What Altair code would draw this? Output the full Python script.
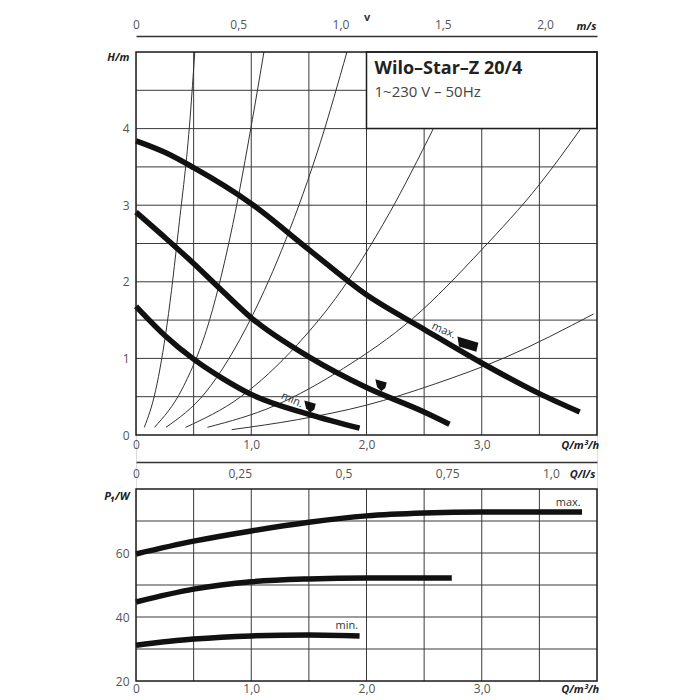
import altair as alt
import pandas as pd

FONT = "Open Sans"
GREY = "#555555"
DARK = "#1c1c1c"
GRID = "#3a3a3a"

# ---------------- upper panel: delivery head H (m) vs Q (m3/h) ----------------
q_max = [0, 0.25, 0.5, 1.0, 1.5, 2.0, 2.5, 3.0, 3.5, 3.85]
h_max = [3.84, 3.69, 3.49, 3.02, 2.42, 1.83, 1.38, 0.94, 0.54, 0.30]
q_mid = [0, 0.25, 0.5, 0.75, 1.0, 1.5, 2.0, 2.5, 2.72]
h_mid = [2.91, 2.58, 2.24, 1.88, 1.53, 1.02, 0.62, 0.30, 0.14]
q_min = [0, 0.25, 0.5, 0.75, 1.0, 1.5, 1.94]
h_min = [1.68, 1.30, 0.99, 0.74, 0.53, 0.27, 0.09]

# thin system curves
sys_q = [
    [0.072, 0.17, 0.27, 0.37, 0.47, 0.51],
    [0.16, 0.40, 0.64, 0.84, 1.01, 1.11],
    [0.26, 0.60, 1.00, 1.30, 1.60, 1.83],
    [0.43, 0.90, 1.40, 1.73, 2.20, 2.58],
    [0.62, 1.20, 1.80, 2.40, 3.00, 3.50, 3.86],
    [0.83, 1.40, 2.00, 2.60, 3.20, 3.97],
]
sys_h = [
    [0.10, 0.58, 1.45, 2.70, 4.15, 5.0],
    [0.10, 0.60, 1.51, 2.75, 4.12, 5.0],
    [0.10, 0.55, 1.53, 2.55, 3.82, 5.0],
    [0.10, 0.49, 1.18, 1.78, 2.90, 4.0],
    [0.10, 0.38, 0.87, 1.52, 2.42, 3.27, 4.0],
    [0.07, 0.20, 0.39, 0.67, 1.01, 1.58],
]

# setting flags on the curves
flag_max_q, flag_max_h = [2.88], [1.19]
flag_q, flag_h = [2.126, 1.51], [0.653, 0.375]
note_top_text = ["max.", "min."]
note_top_q = [2.67, 1.354]
note_top_h = [1.36, 0.457]

title_lines = ["Wilo\u2013Star\u2013Z 20/4", "1~230 V \u2013 50Hz"]
box_q = [2.0, 4.0]
box_h = [4.0, 5.0]

q_grid = [0.5, 1.0, 1.5, 2.0, 2.5, 3.0, 3.5]
h_grid = [0.5, 1.0, 1.5, 2.0, 2.5, 3.0, 3.5, 4.0, 4.5]

q_ticks = [0, 1.0, 2.0, 3.0, 3.85]
h_ticks = [0, 1, 2, 3, 4, 4.93]
v_ticks = [0, 0.5, 1.0, 1.5, 2.0, 2.2]       # m/s (last one carries the unit)
ls_ticks = [0, 0.25, 0.5, 0.75, 1.0, 1.075]  # l/s (last one carries the unit)
V_PER_Q = 2.254 / 4.0   # m/s per m3/h on this chart's velocity scale
LS_PER_Q = 1 / 3.6      # l/s per m3/h

# ---------------- lower panel: power P1 (W) vs Q ----------------
pq_max = [0, 0.5, 1.0, 1.5, 2.0, 2.5, 3.0, 3.5, 3.87]
p_max = [59.7, 63.7, 66.9, 69.6, 71.6, 72.5, 72.8, 72.8, 72.8]
pq_mid = [0, 0.5, 1.0, 1.5, 2.0, 2.74]
p_mid = [44.7, 48.7, 51.0, 51.9, 52.2, 52.2]
pq_min = [0, 0.5, 1.0, 1.5, 1.94]
p_min = [31.2, 33.1, 34.1, 34.4, 34.1]
note_bot_text = ["max.", "min."]
note_bot_q = [3.75, 1.83]
note_bot_p = [75.6, 37.2]
p_grid = [30, 40, 50, 60, 70]
p_ticks = [20, 40, 60, 77.8]

# ---------------- layout (both panels share one vertical scale) ----------------
W = 461
TOP_PX, GAP_PX, LOW_PX = 383, 54, 192
Q_LO, Q_HI = 0.0, 4.0
H_LO, H_HI = 0.0, 5.0
P_LO, P_HI = 20.0, 80.0
U = TOP_PX / (H_HI - H_LO)          # px per metre
LOW_TOP = -GAP_PX / U
LOW_BOT = LOW_TOP - LOW_PX / U
HEIGHT = TOP_PX + GAP_PX + LOW_PX


def p2y(p):
    return LOW_BOT + (p - P_LO) / (P_HI - P_LO) * (LOW_TOP - LOW_BOT)


P2Y_EXPR = f"{LOW_BOT} + (datum.P - {P_LO}) / {P_HI - P_LO} * {LOW_TOP - LOW_BOT}"

xs = alt.Scale(domain=[Q_LO, Q_HI], nice=False, zero=False)
ys = alt.Scale(domain=[LOW_BOT, H_HI], nice=False, zero=False)


def cond(test, a, b):
    return {"condition": {"test": test, "value": a}, "value": b}


def label_style(test):
    return dict(
        labelFont=FONT,
        labelFontSize=cond(test, 11, 12),
        labelColor=cond(test, "#222222", GREY),
        labelFontStyle=cond(test, "italic", "normal"),
        labelFontWeight=cond(test, "bold", "normal"),
    )


def dec(val, fmt):
    return f"replace(format({val}, '{fmt}'), '.', ',')"


q_expr = "datum.value > 3.8 ? 'Q/m\u00b3/h' : (datum.value == 0 ? '0' : " + dec("datum.value", ".1f") + ")"


def q_axis(offset, pad):
    return alt.Axis(orient="bottom", values=q_ticks, labelExpr=q_expr, title=None, domain=False,
                    ticks=False, grid=False, labelFlush=False, labelPadding=pad, offset=offset,
                    **label_style("datum.value > 3.8"))


v_pos = [v / V_PER_Q for v in v_ticks]
v_cut = 2.1 / V_PER_Q
v_val = f"(datum.value * {V_PER_Q})"
ax_v = alt.Axis(orient="top", values=v_pos, offset=16, title="v", titleFont=FONT, titleFontSize=11,
                titleColor="#333333", titleFontWeight="bold", titlePadding=-4,
                domain=True, domainColor="#333333", domainWidth=1.5, ticks=False, grid=False,
                labelFlush=False, labelPadding=5,
                labelExpr=f"datum.value > {v_cut} ? 'm/s' : (datum.value == 0 ? '0' : " + dec(v_val, ".1f") + ")",
                **label_style(f"datum.value > {v_cut}"))

ls_pos = [l / LS_PER_Q for l in ls_ticks]
ls_cut = 1.05 / LS_PER_Q
ls_val = f"(datum.value * {LS_PER_Q})"
ax_ls = alt.Axis(orient="bottom", values=ls_pos, offset=-(LOW_PX + GAP_PX - 27), title=None,
                 domain=True, domainColor="#333333", domainWidth=1.5, ticks=False, grid=False,
                 labelFlush=False, labelPadding=6,
                 labelExpr=f"datum.value > {ls_cut} ? 'Q/l/s' : (datum.value == 0 ? '0' : "
                           f"(abs({ls_val} - 1) < 0.001 ? '1,0' : " + dec(ls_val, ".2~f") + "))",
                 **label_style(f"datum.value > {ls_cut}"))

y_pos = h_ticks + [p2y(p) for p in p_ticks]
pv = f"({P_LO} + (datum.value - {LOW_BOT}) / {LOW_TOP - LOW_BOT} * {P_HI - P_LO})"
unit_test = f"datum.value > 4.5 || (datum.value < 0 && datum.value > {p2y(70)})"
ax_y = alt.Axis(orient="left", values=y_pos, title=None, domain=False, ticks=False, grid=False,
                labelPadding=7,
                labelExpr=f"datum.value > 4.5 ? 'H/m' : (datum.value > -0.01 ? format(datum.value, '.0f') : "
                          f"({pv} > 75 ? 'P\u2081/W' : format({pv}, '.0f')))",
                **label_style(unit_test))


def X(field, axis=None):
    return alt.X(field, scale=xs, axis=axis)


def Y(field, axis=None):
    return alt.Y(field, scale=ys, axis=axis)


# ---------------- data frames ----------------
pump_top = pd.concat([
    pd.DataFrame({"Q": q_max, "H": h_max, "c": "max"}),
    pd.DataFrame({"Q": q_mid, "H": h_mid, "c": "mid"}),
    pd.DataFrame({"Q": q_min, "H": h_min, "c": "min"}),
])
pump_bot = pd.concat([
    pd.DataFrame({"Q": pq_max, "P": p_max, "c": "max"}),
    pd.DataFrame({"Q": pq_mid, "P": p_mid, "c": "mid"}),
    pd.DataFrame({"Q": pq_min, "P": p_min, "c": "min"}),
])
sys_df = pd.concat([pd.DataFrame({"Q": q, "H": h, "c": f"s{i}"}) for i, (q, h) in enumerate(zip(sys_q, sys_h))])
box_df = pd.DataFrame({"q0": [box_q[0]], "q1": [box_q[1]], "h0": [box_h[0]], "h1": [box_h[1]]})
frames_df = pd.DataFrame({"q0": [Q_LO, Q_LO], "q1": [Q_HI, Q_HI],
                          "y0": [H_LO, LOW_BOT], "y1": [H_HI, LOW_TOP]})
vgrid_df = pd.DataFrame({"Q": q_grid * 2,
                         "y0": [H_LO] * len(q_grid) + [LOW_BOT] * len(q_grid),
                         "y1": [H_HI] * len(q_grid) + [LOW_TOP] * len(q_grid)})
hgrid_df = pd.concat([
    pd.DataFrame({"Y": h_grid}),
    pd.DataFrame({"Y": [p2y(p) for p in p_grid]}),
])
hgrid_df["q0"], hgrid_df["q1"] = Q_LO, Q_HI

# ---------------- layers ----------------
vgrid = alt.Chart(vgrid_df).mark_rule(color=GRID, strokeWidth=1).encode(
    x=X("Q:Q", q_axis(0, 2)), y=Y("y0:Q", ax_y), y2="y1:Q")
hgrid = alt.Chart(hgrid_df).mark_rule(color=GRID, strokeWidth=1).encode(
    x=X("q0:Q", q_axis(-(LOW_PX + GAP_PX), 4)), x2="q1:Q", y=Y("Y:Q"))
box = alt.Chart(box_df).mark_rect(fill="white", stroke=DARK, strokeWidth=1.5).encode(
    x=X("q0:Q"), x2="q1:Q", y=Y("h0:Q"), y2="h1:Q")
title1 = alt.Chart(box_df).mark_text(text=title_lines[0], align="left", baseline="middle", dx=8, dy=17,
                                     font=FONT, fontSize=18, fontWeight="bold", color="#222222").encode(
    x=X("q0:Q"), y=Y("h1:Q"))
title2 = alt.Chart(box_df).mark_text(text=title_lines[1], align="left", baseline="middle", dx=8, dy=40,
                                     font=FONT, fontSize=15, color="#444444").encode(
    x=X("q0:Q"), y=Y("h1:Q"))
sys_lines = alt.Chart(sys_df).mark_line(color="#333333", strokeWidth=1, interpolate="monotone").encode(
    x=X("Q:Q"), y=Y("H:Q"), detail="c:N", order="Q:Q")
pump_lines = alt.Chart(pump_top).mark_line(color="#111111", strokeWidth=5.5, interpolate="monotone",
                                           strokeCap="butt").encode(
    x=X("Q:Q"), y=Y("H:Q"), detail="c:N", order="Q:Q")
flag_big = alt.Chart(pd.DataFrame({"Q": flag_max_q, "H": flag_max_h})).mark_point(
    shape="M-1,-0.7 L1,-0.1 L0.8,0.75 L-0.85,0.25 Z", filled=True, opacity=1, color="#111111",
    size=440, strokeWidth=0).encode(x=X("Q:Q"), y=Y("H:Q"))
flag_small = alt.Chart(pd.DataFrame({"Q": flag_q, "H": flag_h})).mark_point(
    shape="M-1,-1 L1,-0.45 L0.75,0.55 L0.05,1.1 L-0.7,0.35 Z", filled=True, opacity=1, color="#111111",
    size=130, strokeWidth=0).encode(x=X("Q:Q"), y=Y("H:Q"))
notes_top = alt.Chart(pd.DataFrame({"Q": note_top_q, "H": note_top_h, "t": note_top_text})).mark_text(
    font=FONT, fontSize=11, color="#333333", angle=24).encode(x=X("Q:Q"), y=Y("H:Q"), text="t:N")

p_lines = alt.Chart(pump_bot).transform_calculate(Y=P2Y_EXPR).mark_line(
    color="#111111", strokeWidth=5.5, interpolate="monotone", strokeCap="butt").encode(
    x=X("Q:Q"), y=Y("Y:Q"), detail="c:N", order="Q:Q")
notes_bot = alt.Chart(pd.DataFrame({"Q": note_bot_q, "P": note_bot_p, "t": note_bot_text})).transform_calculate(
    Y=P2Y_EXPR).mark_text(font=FONT, fontSize=11, color="#333333").encode(
    x=X("Q:Q"), y=Y("Y:Q"), text="t:N")

v_layer = alt.Chart(pd.DataFrame({"Q": v_pos})).mark_point(opacity=0).encode(
    x=X("Q:Q", ax_v), y=alt.value(0))
ls_layer = alt.Chart(pd.DataFrame({"Q": ls_pos})).mark_point(opacity=0).encode(
    x=X("Q:Q", ax_ls), y=alt.value(0))
frames = alt.Chart(frames_df).mark_rect(fill=None, fillOpacity=0, stroke=DARK, strokeWidth=1.5).encode(
    x=X("q0:Q"), x2="q1:Q", y=Y("y0:Q"), y2="y1:Q")

chart = alt.layer(vgrid, hgrid, box, sys_lines, pump_lines, flag_big, flag_small, notes_top,
                  title1, title2, p_lines, notes_bot, v_layer, ls_layer, frames).resolve_axis(
    x="independent", y="independent").properties(
    width=W, height=HEIGHT,
    padding={"left": 95, "top": 3, "right": 5, "bottom": 5},
).configure_view(stroke=None).configure(font=FONT)

chart.save("out.html", embed_options={"renderer": "svg", "actions": False})
